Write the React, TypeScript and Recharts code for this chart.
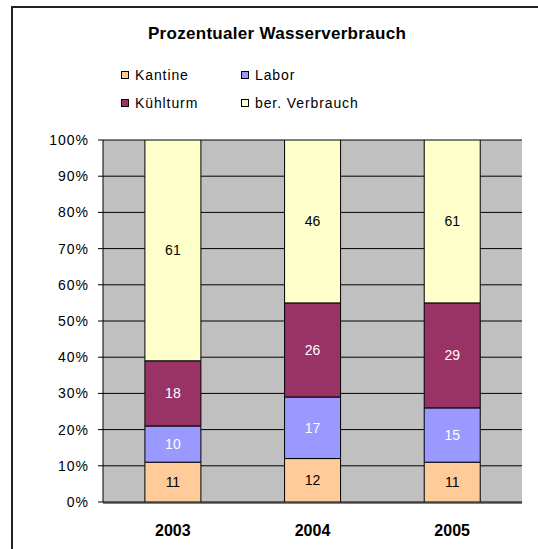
import React from 'react';
import { BarChart, Bar, XAxis, YAxis, CartesianGrid, LabelList, ReferenceLine } from 'recharts';

const categories = ['2003', '2004', '2005'];
const kantine = [11, 12, 11];
const labor = [10, 17, 15];
const kuehlturm = [18, 26, 29];
const berVerbrauch = [61, 46, 61];
const yTicks = [0, 10, 20, 30, 40, 50, 60, 70, 80, 90, 100];
const boundaryTicks = [0, 1, 2, 3];
const title = 'Prozentualer Wasserverbrauch';

const series = [
  { key: 'kantine', name: 'Kantine', values: kantine, fill: '#FFCC99', labelColor: '#000000' },
  { key: 'labor', name: 'Labor', values: labor, fill: '#9999FF', labelColor: '#FFFFFF' },
  { key: 'kuehlturm', name: 'Kühlturm', values: kuehlturm, fill: '#993366', labelColor: '#FFFFFF' },
  { key: 'ber', name: 'ber. Verbrauch', values: berVerbrauch, fill: '#FFFFCC', labelColor: '#000000' },
];

const data = categories.map((c, i) => {
  const row: any = { year: c };
  series.forEach((s) => {
    row[s.key] = s.values[i];
  });
  return row;
});

const FONT = '"Liberation Sans", Arial, Helvetica, sans-serif';
const W = 538;
const H = 549;
const MARGIN = { top: 140, right: 16, bottom: 45, left: 0 };

const makeLabel = (color: string) => (props: any) => {
  const x = Number(props.x);
  const y = Number(props.y);
  const w = Number(props.width);
  const h = Number(props.height);
  const top = Math.max(Math.min(y, y + h), MARGIN.top);
  const bottom = Math.max(y, y + h);
  const cy = (top + bottom) / 2;
  return (
    <text
      x={x + w / 2}
      y={cy}
      textAnchor="middle"
      dominantBaseline="central"
      fill={color}
      fontSize={14}
      fontFamily={FONT}
    >
      {props.value}
    </text>
  );
};

const legendPos = [
  { left: 121, top: 67 },
  { left: 241, top: 67 },
  { left: 121, top: 95 },
  { left: 241, top: 95 },
];

export default function App() {
  return (
    <div
      style={{
        position: 'absolute',
        left: 0,
        top: 0,
        width: W,
        height: H,
        overflow: 'hidden',
        background: '#FFFFFF',
        fontFamily: FONT,
      }}
    >
      <div style={{ position: 'absolute', left: 11, top: 6, width: 2, height: 600, background: '#222222' }} />
      <div style={{ position: 'absolute', left: 11, top: 6, width: 600, height: 2, background: '#222222' }} />
      <div
        style={{
          position: 'absolute',
          left: 120,
          width: 314,
          top: 24,
          textAlign: 'center',
          fontWeight: 'bold',
          fontSize: 17,
          letterSpacing: 0.3,
          lineHeight: '20px',
          color: '#000',
        }}
      >
        {title}
      </div>
      {series.map((s, i) => (
        <div
          key={s.key}
          style={{
            position: 'absolute',
            left: legendPos[i].left,
            top: legendPos[i].top,
            height: 16,
            display: 'flex',
            alignItems: 'center',
            fontSize: 14,
            letterSpacing: 0.9,
            color: '#000',
            whiteSpace: 'nowrap',
          }}
        >
          <span
            style={{
              display: 'inline-block',
              width: 6,
              height: 6,
              border: '1px solid #000',
              background: s.fill,
              marginRight: 6,
            }}
          />
          <span>{s.name}</span>
        </div>
      ))}
      <div style={{ position: 'absolute', left: 0, top: 0 }}>
        <BarChart width={W} height={H} data={data} margin={MARGIN} barCategoryGap="30%">
          <CartesianGrid vertical={false} horizontal={true} stroke="#000000" fill="#C0C0C0" />
          <XAxis
            xAxisId={0}
            dataKey="year"
            height={1}
            axisLine={false}
            tickLine={false}
            tickMargin={17}
            tick={{ fontSize: 16, fontWeight: 'bold', fill: '#000', fontFamily: FONT }}
          />
          <XAxis
            xAxisId="b"
            type="number"
            domain={[0, 3]}
            ticks={boundaryTicks}
            height={1}
            tick={false}
            tickSize={5}
            tickLine={{ stroke: '#000' }}
            axisLine={{ stroke: '#000' }}
          />
          <YAxis
            type="number"
            domain={[0, 100]}
            ticks={yTicks}
            allowDataOverflow
            width={103}
            interval={0}
            tickFormatter={(v: number) => `${v}%`}
            tickSize={5}
            tickMargin={9}
            tickLine={{ stroke: '#000' }}
            axisLine={{ stroke: '#000' }}
            tick={{ fontSize: 14, fill: '#000', fontFamily: FONT, letterSpacing: 1 }}
          />
          {series.map((s) => (
            <Bar
              key={s.key}
              dataKey={s.key}
              name={s.name}
              stackId="s"
              fill={s.fill}
              stroke="#000000"
              strokeWidth={1}
              isAnimationActive={false}
            >
              <LabelList dataKey={s.key} content={makeLabel(s.labelColor)} />
            </Bar>
          ))}
          <ReferenceLine xAxisId="b" x={3} stroke="#808080" />
        </BarChart>
      </div>
    </div>
  );
}
